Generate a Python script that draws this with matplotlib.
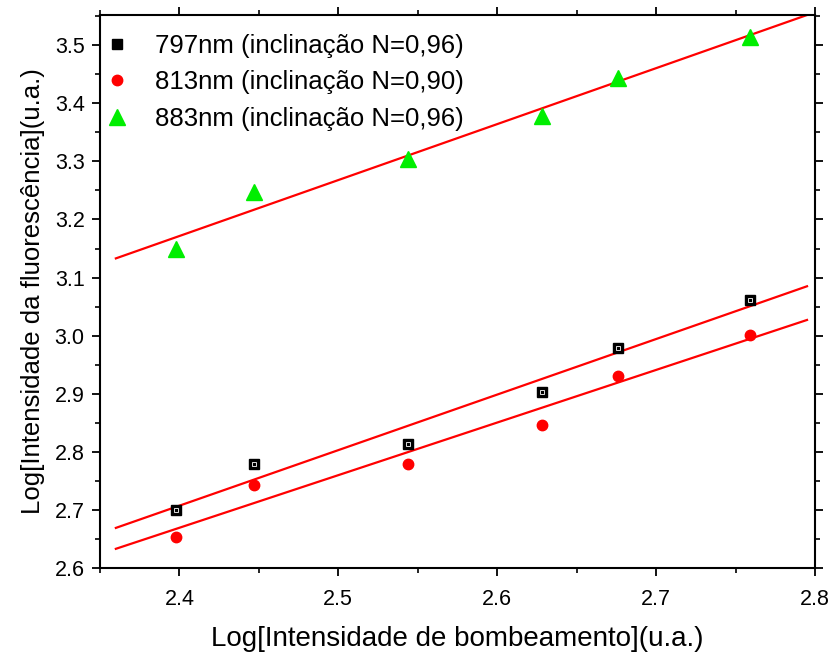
import matplotlib
matplotlib.use("Agg")
import matplotlib.pyplot as plt
from matplotlib.ticker import MultipleLocator

plt.rcParams['font.family'] = ['Liberation Sans', 'DejaVu Sans']

x_pump = [2.398, 2.447, 2.544, 2.628, 2.676, 2.759]
y_797 = [2.700, 2.779, 2.813, 2.903, 2.979, 3.061]
y_813 = [2.653, 2.743, 2.779, 2.846, 2.930, 3.001]
y_883 = [3.150, 3.247, 3.304, 3.378, 3.443, 3.514]

labels = ["797nm (inclinação N=0,96)",
          "813nm (inclinação N=0,90)",
          "883nm (inclinação N=0,96)"]

fit_x = [2.36, 2.795]
fit_797 = [2.669, 3.085]
fit_813 = [2.633, 3.027]
fit_883 = [3.133, 3.552]

xticks = [2.4, 2.5, 2.6, 2.7, 2.8]
yticks = [2.6, 2.7, 2.8, 2.9, 3.0, 3.1, 3.2, 3.3, 3.4, 3.5]

fig = plt.figure(figsize=(8.31, 6.53), dpi=100)
ax = fig.add_axes([0.1203, 0.1302, 0.8604, 0.8468])

for fy in (fit_797, fit_813, fit_883):
    ax.plot(fit_x, fy, color='red', lw=1.6, zorder=2)

ax.plot(x_pump, y_797, ls='none', marker='s', ms=6.5, mfc='black', mec='black',
        mew=1.0, label=labels[0], zorder=3)
ax.plot(x_pump, y_797, ls='none', marker='s', ms=2.8, mfc='none', mec='white',
        mew=0.6, zorder=4)
ax.plot(x_pump, y_813, ls='none', marker='o', ms=7.5, mfc='red', mec='red',
        label=labels[1], zorder=3)
ax.plot(x_pump, y_883, ls='none', marker='^', ms=11, mfc='#00ee00', mec='#00ee00',
        label=labels[2], zorder=3)

ax.set_xlim(2.35, 2.8)
ax.set_ylim(2.6, 3.552)
ax.set_xticks(xticks)
ax.set_xticklabels(['%.1f' % v for v in xticks])
ax.set_yticks(yticks)
ax.set_yticklabels(['%.1f' % v for v in yticks])
ax.xaxis.set_minor_locator(MultipleLocator(0.05))
ax.yaxis.set_minor_locator(MultipleLocator(0.05))

for s in ax.spines.values():
    s.set_linewidth(1.5)
ax.tick_params(which='major', direction='out', length=6, width=1.3, labelsize=15.5)
ax.tick_params(axis='x', which='major', pad=9)
ax.tick_params(axis='y', which='major', pad=5)
ax.tick_params(which='minor', direction='out', length=3.5, width=1.2)
ax.tick_params(top=True, right=True, which='both')

ax.set_xlabel("Log[Intensidade de bombeamento](u.a.)", fontsize=20, labelpad=12)
ax.set_ylabel("Log[Intensidade da fluorescência](u.a.)", fontsize=18.5, labelpad=7)

ax.legend(loc='upper left', frameon=False, fontsize=18.5, handletextpad=1.25,
          borderaxespad=0.0, borderpad=0.4, labelspacing=0.5, handlelength=0.5,
          bbox_to_anchor=(0.0, 0.985))

fig.savefig("out.png", dpi=100)
